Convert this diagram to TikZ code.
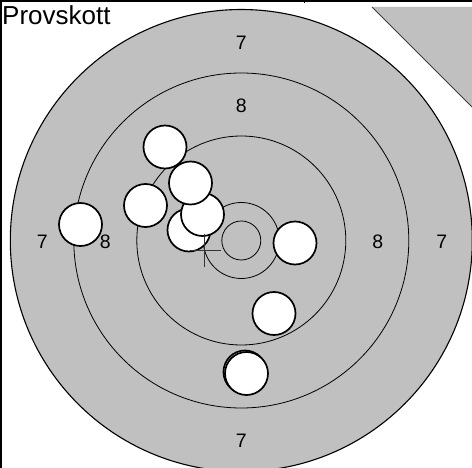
\documentclass[tikz,border=0pt]{standalone}
\usepackage{fontspec}
\setmainfont{Liberation Sans}
\definecolor{tgray}{RGB}{192,192,192}
\tikzset{
  ring/.style={draw=black, line width=0.8pt},
  score/.style={inner sep=0pt, anchor=base, font=\fontsize{19.5}{20}\selectfont},
  shot/.style={circle, draw=black, fill=white, line width=1.7pt, minimum size=43pt, inner sep=0pt},
}
\begin{document}
\begin{tikzpicture}[x=1pt,y=-1pt]
\useasboundingbox (0,0) rectangle (472,468);
\clip (0,0) rectangle (472,468);
\fill[white] (0,0) rectangle (472,468);
% top-right grey corner
\fill[tgray] (372,7) -- (472,7) -- (472,107) -- cycle;
\draw[line width=0.8pt, black!75] (372,7) -- (472,107);
% target
\coordinate (c) at (241.3,240.5);
\fill[tgray] (c) circle (231);
\draw[line width=1.1pt] (c) circle (231);
\draw[ring] (c) circle (167.5);
\draw[ring] (c) circle (104.5);
\draw[ring] (c) circle (38);
\draw[ring] (c) circle (19.5);
% score labels
\node[score] (t7) at (241.3,49.3) {7};
\node[score] (t8) at (241.3,112.7) {8};
\node[score] (l7) at (42.3,248.3) {7};
\node[score] (l8) at (105.2,248.3) {8};
\node[score] (r8) at (377.8,248.3) {8};
\node[score] (r7) at (441.7,248.3) {7};
\node[score] (b7) at (241.3,447.7) {7};
% shots
\node[shot] (s1) at (165,147) {};
\node[shot] (s3) at (145.5,205.5) {};
\node[shot] (s4) at (80.5,224.5) {};
\node[shot] (s5) at (189,230) {};
\node[shot] (s6) at (202.5,214.5) {};
\node[shot] (s2) at (190.5,183) {};
\node[shot] (s7) at (295,243) {};
\node[shot] (s8) at (274,313.5) {};
\node[shot] (s9a) at (245,372) {};
\node[shot] (s9b) at (246.5,373.5) {};
% aim cross
\coordinate (xc) at (204.5,250.5);
\draw[line width=0.9pt, black!80] ([xshift=-15pt]xc) -- ([xshift=16pt]xc);
\draw[line width=0.9pt, black!80] ([yshift=-17pt]xc) -- ([yshift=16pt]xc);
% frame
\draw[line width=1.5pt] (1.2,0) -- (1.2,468);
\draw[line width=1.5pt] (0,0.8) -- (472,0.8);
\draw[line width=1pt] (304,0) -- (304,3.5);
\node[inner sep=0pt, anchor=base west, font=\fontsize{26}{28}\selectfont] (title) at (2,25) {Provskott};
\end{tikzpicture}
\end{document}
